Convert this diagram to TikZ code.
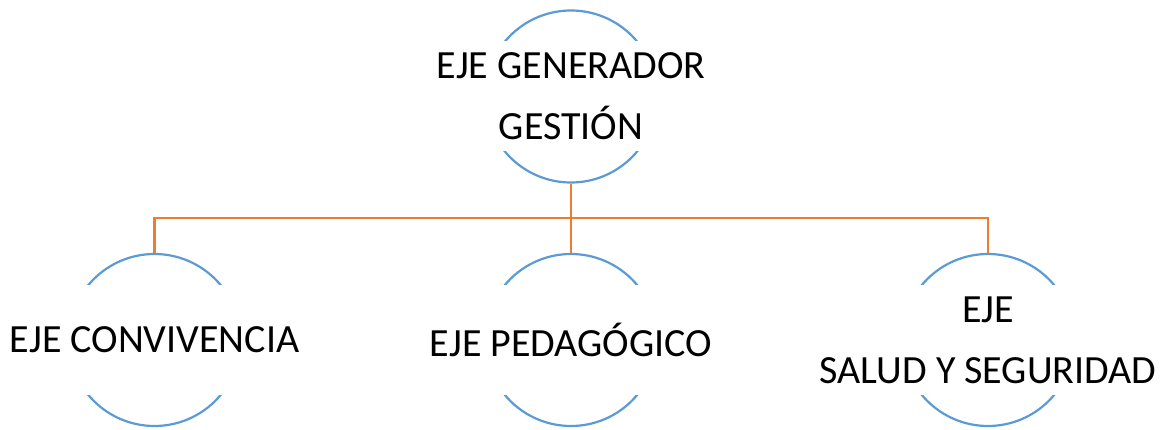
\documentclass[tikz,border=0pt]{standalone}
\usepackage{fontspec}
\setmainfont{Carlito}
\definecolor{ringblue}{HTML}{5B9BD5}
\definecolor{linkorange}{HTML}{ED7D31}
\begin{document}
\begin{tikzpicture}[x=1pt,y=1pt,
  ring/.style={circle, draw=ringblue, line width=2.2pt, minimum size=172pt, inner sep=0pt},
  lbl/.style={fill=white, minimum height=110pt, minimum width=180pt, align=center, inner sep=0pt,
    font=\fontsize{40}{61}\selectfont},
  link/.style={draw=linkorange, line width=2.2pt}]
\useasboundingbox (0,0) rectangle (1169,429);
\node[ring] (top) at (571,332.5) {};
\node[ring] (left) at (154.5,89) {};
\node[ring] (mid) at (571,89) {};
\node[ring] (right) at (988,89) {};
\node[lbl] (toptext) at (top.center) {EJE GENERADOR\\GESTIÓN};
\node[lbl] (lefttext) at (left.center) {EJE CONVIVENCIA};
\node[lbl] (midtext) at (mid.center) {EJE PEDAGÓGICO};
\node[lbl] (righttext) at (right.center) {EJE\\SALUD Y SEGURIDAD};
\coordinate (bus) at (571,211);
\draw[link] (top.south) -- (bus);
\draw[link] (bus) -| (left.north);
\draw[link] (bus) -| (right.north);
\draw[link] (bus) -- (mid.north);
\end{tikzpicture}
\end{document}
